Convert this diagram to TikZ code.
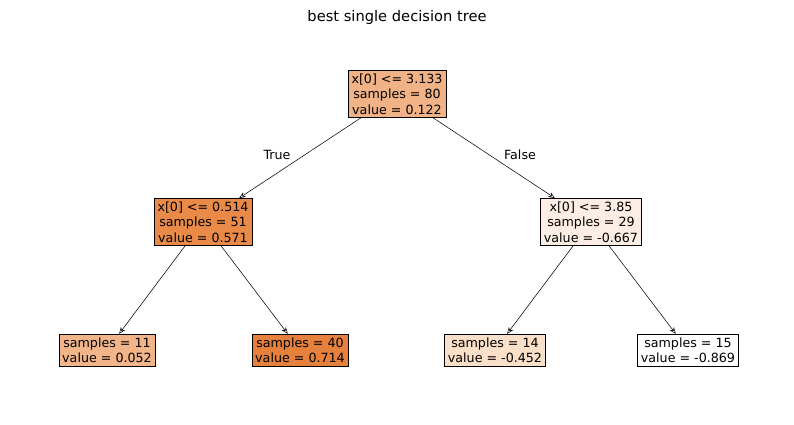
\documentclass[tikz,border=0pt]{standalone}
\usepackage{fontspec}
\setmainfont{DejaVu Sans}
\usetikzlibrary{arrows.meta, positioning}
\definecolor{rootc}{RGB}{241,178,133}
\definecolor{lowc}{RGB}{233,138,73}
\definecolor{highc}{RGB}{252,238,228}
\definecolor{leafa}{RGB}{242,181,137}
\definecolor{leafb}{RGB}{229,129,60}
\definecolor{leafc}{RGB}{250,223,201}
\tikzset{
	split/.style={
		rectangle,
		draw=black,
		align=center,
		inner sep=2.5pt,
		font=\fontsize{9.5}{11.5}\selectfont},
	arrow/.style={-{Stealth[length=5pt,width=4pt,open]}, thin}
}

\begin{document}
\begin{tikzpicture}[x=0.75pt,y=-0.75pt]
\useasboundingbox (0,0) rectangle (794,425);

% --- Title ---
\node (title) at (397,17) {\fontsize{11}{13}\selectfont best single decision tree};

% --- Nodes ---
\node (root) [split, fill=rootc] at (397,94) {x[0] <= 3.133\\samples = 80\\value = 0.122};
\node (low) [split, fill=lowc] at (203,222) {x[0] <= 0.514\\samples = 51\\value = 0.571};
\node (high) [split, fill=highc] at (591,222) {x[0] <= 3.85\\samples = 29\\value = -0.667};

\node (leaf1) [split, fill=leafa] at (107,350) {samples = 11\\value = 0.052};
\node (leaf2) [split, fill=leafb] at (300,350) {samples = 40\\value = 0.714};
\node (leaf3) [split, fill=leafc] at (495,350) {samples = 14\\value = -0.452};
\node (leaf4) [split, fill=white] at (688,350) {samples = 15\\value = -0.869};

% --- Arrows ---
\draw [arrow] (root) -- (low);
\draw [arrow] (root) -- (high);
\draw [arrow] (low) -- (leaf1);
\draw [arrow] (low) -- (leaf2);
\draw [arrow] (high) -- (leaf3);
\draw [arrow] (high) -- (leaf4);

\node (truelbl) [font=\fontsize{9.5}{11}\selectfont] at (277,155) {True};
\node (falselbl) [font=\fontsize{9.5}{11}\selectfont] at (520,155) {False};

\end{tikzpicture}
\end{document}
